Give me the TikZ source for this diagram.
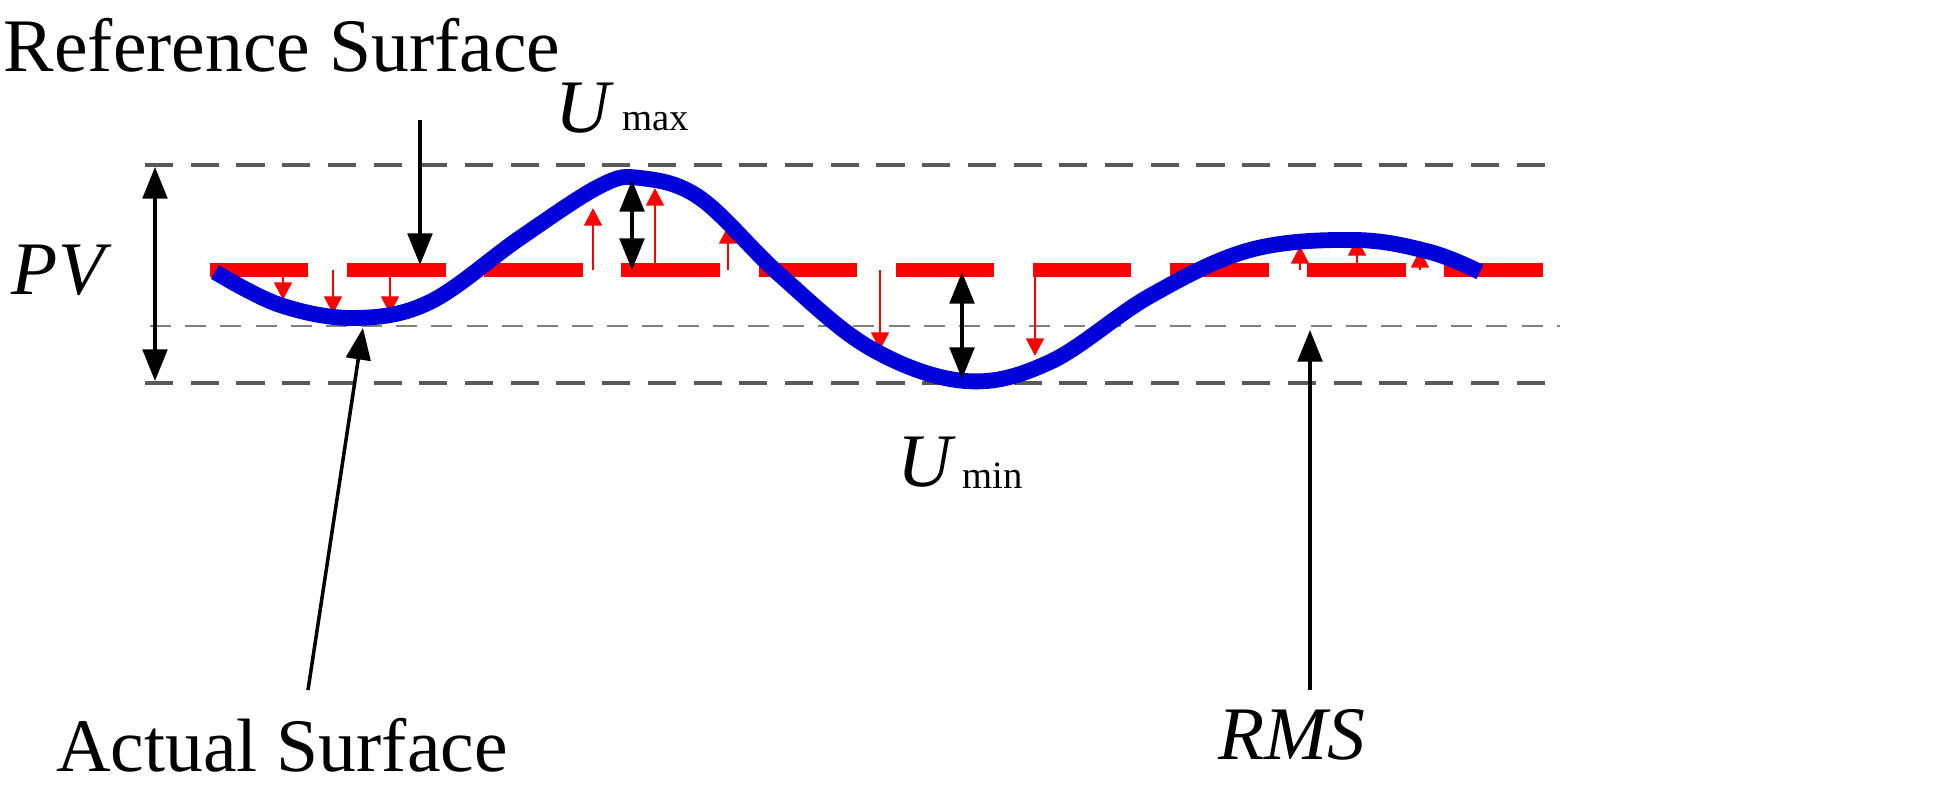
\documentclass[tikz,border=0pt]{standalone}
\usepackage{fontspec}
\setmainfont{Liberation Serif}
\usetikzlibrary{arrows.meta}
\begin{document}
\begin{tikzpicture}[x=0.01cm,y=-0.01cm,
  lbl/.style={font=\fontsize{21.5}{24}\selectfont,inner sep=0pt},
  ilbl/.style={font=\fontsize{21.5}{24}\selectfont\itshape,inner sep=0pt},
  sub/.style={font=\fontsize{11}{12}\selectfont,inner sep=0pt},
  gline/.style={gray!70!black,line width=1.2pt,dash pattern=on 8pt off 5pt},
  redref/.style={red,line width=4pt,dash pattern=on 28pt off 11pt},
  rarr/.style={red,line width=0.8pt,-{Triangle[length=5pt,width=5pt]}},
  barr/.style={black,line width=1pt,-{Triangle[length=9pt,width=7pt]}},
  dbarr/.style={black,line width=1pt,{Triangle[length=9pt,width=7pt]}-{Triangle[length=9pt,width=7pt]}}]
\useasboundingbox (0,0) rectangle (1960,789);
\coordinate (tl) at (145,165); \coordinate (tr) at (1550,165);
\coordinate (bl) at (145,383); \coordinate (br) at (1550,383);
\coordinate (ml) at (150,326); \coordinate (mr) at (1560,326);
\draw[gline] (tl) -- (tr);
\draw[gline] (bl) -- (br);
\draw[gray,line width=0.8pt,dash pattern=on 6pt off 4pt] (ml) -- (mr);
\coordinate (rl) at (210,270); \coordinate (rr) at (1555,270);
\draw[redref] (rl) -- (rr);
\foreach \x/\y in {283/300,333/314,390/314,880/350,1035/356}
  \draw[rarr] (\x,270) -- (\x,\y);
\foreach \x/\y in {593/208,728/226,1300/246,1357/238,1420/250}
  \draw[rarr] (\x,270) -- (\x,\y);
\draw[red,line width=0.8pt] (655,270) -- (655,195);
\draw[rarr] (655,200) -- (655,188);
\draw[blue!85!black,line width=4.5pt] plot[smooth,tension=0.6] coordinates {(215,272)(280,305)(355,318)(430,302)(520,238)(600,186)(640,178)(700,198)(780,275)(870,348)(965,381)(1050,362)(1150,296)(1250,250)(1355,240)(1430,252)(1480,272)};
\coordinate (pvt) at (155,167); \coordinate (pvb) at (155,381);
\draw[dbarr] (pvt) -- (pvb);
\node[ilbl] (pv) at (58,270) {PV};
\node[lbl] (ref) at (282,45) {Reference Surface};
\coordinate (refa) at (420,120); \coordinate (refb) at (420,265);
\draw[barr] (refa) -- (refb);
\node[lbl] (act) at (282,745) {Actual Surface};
\coordinate (acta) at (308,690); \coordinate (actb) at (363,328);
\draw[barr] (acta) -- (actb);
\node[ilbl] (umax) at (583,108) {U};
\node[sub,anchor=west] (umaxs) at (622,122) {max};
\coordinate (uma) at (632,180); \coordinate (umb) at (632,270);
\draw[dbarr] (uma) -- (umb);
\node[ilbl] (umin) at (925,462) {U};
\node[sub,anchor=west] (umins) at (962,476) {min};
\coordinate (una) at (962,272); \coordinate (unb) at (962,379);
\draw[dbarr] (una) -- (unb);
\node[ilbl] (rms) at (1292,735) {RMS};
\coordinate (rmsa) at (1310,690); \coordinate (rmsb) at (1310,330);
\draw[barr] (rmsa) -- (rmsb);
\end{tikzpicture}
\end{document}
